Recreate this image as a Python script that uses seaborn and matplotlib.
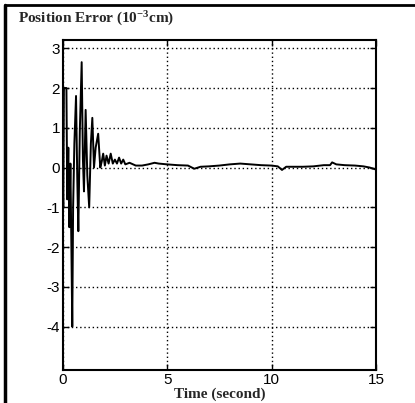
import matplotlib
matplotlib.use("Agg")
import matplotlib.pyplot as plt
import seaborn as sns
import pandas as pd
from matplotlib.lines import Line2D

time_s = [0, 0.03, 0.06, 0.18, 0.22, 0.27, 0.32, 0.37, 0.42, 0.46, 0.5, 0.56,
          0.64, 0.7, 0.75, 0.82, 0.91, 0.97, 1.02, 1.1, 1.18, 1.27, 1.35, 1.42,
          1.5, 1.58, 1.7, 1.8, 1.87, 1.94, 2.02, 2.1, 2.2, 2.3, 2.4, 2.5, 2.6,
          2.7, 2.8, 2.9, 3.0, 3.2, 3.5, 3.8, 4.1, 4.4, 4.6, 5.0, 5.5, 6.0, 6.3,
          6.6, 7.0, 7.5, 8.0, 8.5, 9.0, 9.5, 10.0, 10.3, 10.5, 10.7, 11.0, 11.5,
          12.0, 12.5, 12.8, 12.9, 13.1, 13.5, 14.0, 14.4, 14.7, 15.0]
error = [0, -1.0, 2.0, 2.0, -0.8, 0.5, -1.5, 0.1, -2.1, -4.0, -1.0, 0.6,
         1.8, -0.3, -1.6, 0.9, 2.65, 0.2, -0.6, 1.45, -0.2, -1.0, 0.6, 1.25,
         0.0, 0.5, 0.85, 0.0, 0.15, 0.35, 0.05, 0.3, 0.1, 0.35, 0.1, 0.2, 0.1,
         0.25, 0.1, 0.2, 0.08, 0.12, 0.05, 0.05, 0.08, 0.12, 0.1, 0.08, 0.06, 0.05, -0.03,
         0.02, 0.03, 0.05, 0.08, 0.1, 0.08, 0.06, 0.05, 0.03, -0.06, 0.02, 0.02, 0.02,
         0.03, 0.06, 0.06, 0.13, 0.08, 0.06, 0.05, 0.03, 0.0, -0.05]
x_ticks = [0, 5, 10, 15]
y_ticks = [-4, -3, -2, -1, 0, 1, 2, 3]

sns.set_theme(style="ticks")
plt.rcParams["font.family"] = ["Liberation Sans", "DejaVu Sans"]
plt.rcParams["mathtext.fontset"] = "custom"
plt.rcParams["mathtext.rm"] = "Liberation Serif:bold"
plt.rcParams["mathtext.bf"] = "Liberation Serif:bold"
plt.rcParams["mathtext.default"] = "rm"

df = pd.DataFrame({"Time": time_s, "Error": error})

fig = plt.figure(figsize=(4.15, 4.03), dpi=100)
ax = fig.add_axes([0.151, 0.081, 0.755, 0.819])
sns.lineplot(data=df, x="Time", y="Error", ax=ax, color="black", linewidth=1.4)

ax.set_xlim(0, 15)
ax.set_ylim(-5.1, 3.2)
ax.set_xticks(x_ticks)
ax.set_yticks(y_ticks)
ax.set_xticklabels([str(v) for v in x_ticks], fontsize=11)
ax.set_yticklabels([str(v) for v in y_ticks], fontsize=11)
ax.tick_params(direction="in", length=4, width=1, top=True, right=True,
               pad=2, colors="black")
ax.grid(True, color="black", linestyle=(0, (1, 2)), linewidth=1.0)
for s in ax.spines.values():
    s.set_color("black")
    s.set_linewidth(1.5)
ax.set_ylabel("")
ax.set_xlabel("Time (second)", fontsize=11, fontfamily="Liberation Serif",
              fontweight="bold", labelpad=0)

fig.text(18 / 415, 1 - 10 / 403, "Position Error (10$^{-3}$cm)",
         fontsize=11, fontfamily="Liberation Serif", fontweight="bold",
         ha="left", va="top")

fig.add_artist(Line2D([5 / 415, 5 / 415], [0, 1 - 5 / 403], color="black",
                      linewidth=2.5, transform=fig.transFigure))
fig.add_artist(Line2D([5 / 415, 1], [1 - 5 / 403, 1 - 5 / 403], color="black",
                      linewidth=2, transform=fig.transFigure))

fig.savefig("out.png", dpi=100)
